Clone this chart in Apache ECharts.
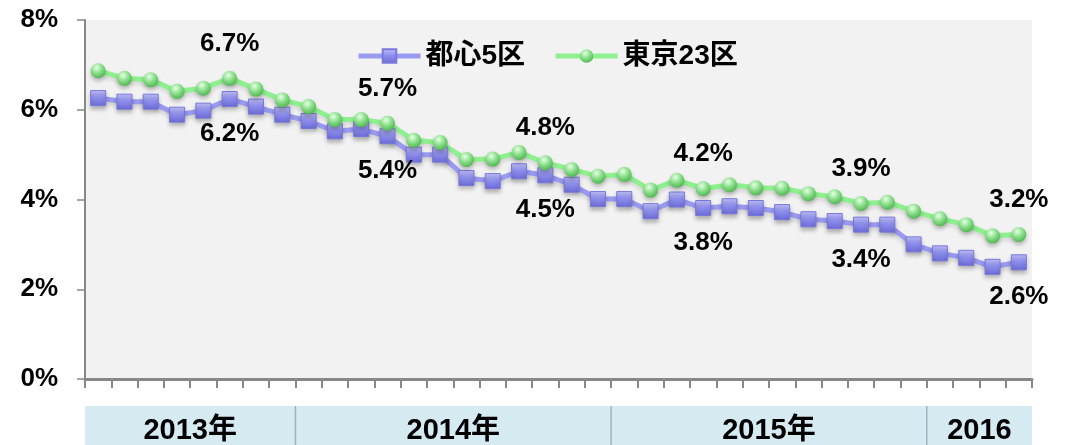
<!DOCTYPE html>
<html>
<head>
<meta charset="utf-8">
<script src="https://cdn.jsdelivr.net/npm/echarts@6/dist/echarts.min.js"></script>
<style>
  html, body { margin: 0; padding: 0; background: #fff; }
  #chart { width: 1067px; height: 445px; }
</style>
</head>
<body>
<div id="chart"></div>
<script>
// months from 2013/05 to 2016/04
const months = []
for (let i = 0; i < 36; i++) {
  const m = (4 + i) % 12 + 1
  const y = 2013 + Math.floor((4 + i) / 12)
  months.push(y + '/' + m)
}
const toshin5 = [6.26, 6.18, 6.18, 5.89, 5.98, 6.24, 6.07, 5.89, 5.75, 5.52, 5.57, 5.41,
  5.0, 5.0, 4.48, 4.41, 4.63, 4.54, 4.33, 4.01, 4.01, 3.74, 4.0, 3.81,
  3.85, 3.81, 3.72, 3.56, 3.52, 3.44, 3.44, 3.0, 2.8, 2.7, 2.5, 2.6]
const tokyo23 = [6.87, 6.7, 6.67, 6.41, 6.48, 6.7, 6.46, 6.22, 6.07, 5.78, 5.78, 5.7,
  5.32, 5.27, 4.89, 4.9, 5.05, 4.82, 4.67, 4.52, 4.56, 4.21, 4.43, 4.24,
  4.33, 4.26, 4.25, 4.13, 4.06, 3.91, 3.94, 3.74, 3.57, 3.44, 3.19, 3.22]
const labelIdx = [5, 11, 17, 23, 29, 35]
const yearNames = ['2013年', '2014年', '2015年', '2016']
const yearMonths = [8, 12, 12, 4]
const yTicks = [0, 2, 4, 6, 8]

const FONT = '"Liberation Sans", "Noto Sans CJK JP", sans-serif'

// year band spans in month units
const yearSpans = []
let start = 0
yearNames.forEach((name, i) => {
  yearSpans.push([start, start + yearMonths[i], name, i])
  start += yearMonths[i]
})

function withLabels(vals) {
  return vals.map((v, i) => labelIdx.includes(i) ? { value: v, label: { show: true } } : v)
}

const chart = echarts.init(document.getElementById('chart'))
const labelText = {
  fontFamily: FONT,
  fontSize: 26,
  fontWeight: 'bold',
  color: '#000',
  formatter: p => p.value.toFixed(1) + '%'
}

const option = {
  backgroundColor: '#fff',
  animation: false,
  legend: {
    top: 37,
    left: 351,
    itemWidth: 62,
    itemHeight: 17,
    itemGap: 28,
    lineStyle: { width: 5 },
    textStyle: { fontFamily: FONT, fontSize: 28, fontWeight: 'bold', color: '#000' },
    data: ['都心5区', '東京23区']
  },
  grid: [
    { left: 85, right: 35, top: 20, bottom: 66, show: true, backgroundColor: '#f2f2f2', borderWidth: 0 },
    { left: 85, right: 35, top: 406, bottom: 0 }
  ],
  xAxis: [
    {
      type: 'category',
      gridIndex: 0,
      data: months,
      boundaryGap: true,
      axisLine: { lineStyle: { color: '#888', width: 3 } },
      axisTick: { show: true, interval: 0, length: 9, lineStyle: { color: '#888', width: 2 } },
      axisLabel: { show: false },
      splitLine: { show: false }
    },
    {
      type: 'value',
      gridIndex: 1,
      min: 0,
      max: 36,
      show: false
    }
  ],
  yAxis: [
    {
      type: 'value',
      gridIndex: 0,
      min: yTicks[0],
      max: yTicks[yTicks.length - 1],
      interval: 2,
      axisLine: { show: true, lineStyle: { color: '#888', width: 2 } },
      axisTick: { show: true, length: 8, lineStyle: { color: '#888', width: 1.5 } },
      axisLabel: {
        margin: 27,
        fontFamily: FONT,
        fontSize: 26,
        fontWeight: 'bold',
        color: '#000',
        formatter: '{value}%'
      },
      splitLine: { show: false }
    },
    { type: 'value', gridIndex: 1, min: 0, max: 1, show: false }
  ],
  series: [
    {
      name: '都心5区',
      type: 'line',
      data: withLabels(toshin5),
      symbol: 'rect',
      symbolSize: 15,
      lineStyle: {
        color: '#9a9af2',
        width: 5,
        shadowColor: 'rgba(0,0,0,0.15)',
        shadowBlur: 4,
        shadowOffsetY: 3
      },
      itemStyle: {
        color: new echarts.graphic.LinearGradient(0, 0, 0, 1, [
          { offset: 0, color: '#c4c4fb' },
          { offset: 0.45, color: '#9090ee' },
          { offset: 1, color: '#6a6ad6' }
        ]),
        borderColor: '#7878dc',
        borderWidth: 1,
        shadowColor: 'rgba(0,0,0,0.25)',
        shadowBlur: 4,
        shadowOffsetY: 3
      },
      label: Object.assign({ show: false, position: 'bottom', distance: 14 }, labelText),
      z: 3
    },
    {
      name: '東京23区',
      type: 'line',
      data: withLabels(tokyo23),
      symbol: 'circle',
      symbolSize: 15,
      lineStyle: {
        color: '#8ef08e',
        width: 5,
        shadowColor: 'rgba(0,0,0,0.12)',
        shadowBlur: 4,
        shadowOffsetY: 3
      },
      itemStyle: {
        color: new echarts.graphic.RadialGradient(0.4, 0.3, 0.7, [
          { offset: 0, color: '#e6ffe6' },
          { offset: 0.5, color: '#8ee08e' },
          { offset: 1, color: '#52b852' }
        ]),
        borderWidth: 0,
        shadowColor: 'rgba(0,0,0,0.25)',
        shadowBlur: 4,
        shadowOffsetY: 3
      },
      label: Object.assign({ show: false, position: 'top', distance: 14 }, labelText),
      z: 3
    },
    {
      type: 'custom',
      xAxisIndex: 1,
      yAxisIndex: 1,
      silent: true,
      data: yearSpans,
      encode: { x: [0, 1] },
      renderItem: function(params, api) {
        const p0 = api.coord([api.value(0), 1])
        const p1 = api.coord([api.value(1), 0])
        const children = [{
          type: 'rect',
          shape: { x: p0[0], y: p0[1], width: p1[0] - p0[0], height: p1[1] - p0[1] },
          style: { fill: '#d6eaf2' }
        }, {
          type: 'text',
          style: {
            x: (p0[0] + p1[0]) / 2,
            y: (p0[1] + p1[1]) / 2 + 5,
            text: yearNames[api.value(3)],
            align: 'center',
            verticalAlign: 'middle',
            font: 'bold 29px ' + FONT,
            fill: '#000'
          }
        }]
        if (api.value(3) > 0) {
          children.push({
            type: 'line',
            shape: { x1: p0[0], y1: p0[1], x2: p0[0], y2: p1[1] },
            style: { stroke: '#9fb3c4', lineWidth: 1.5 }
          })
        }
        return { type: 'group', children: children }
      }
    }
  ]
}
chart.setOption(option)
</script>
</body>
</html>
